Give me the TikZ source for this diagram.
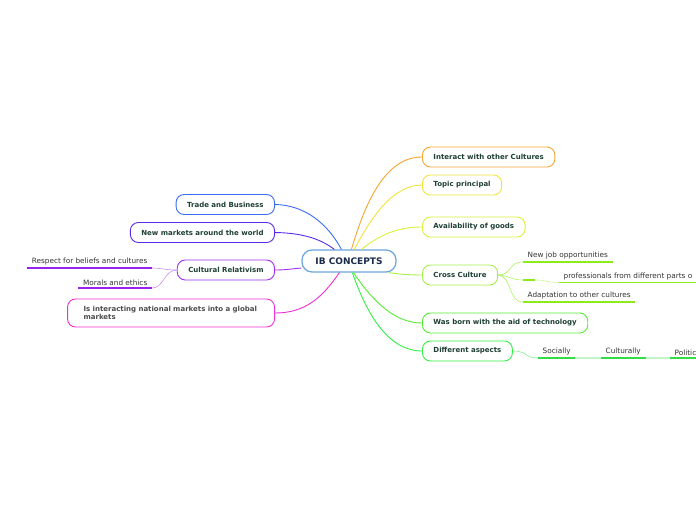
\documentclass[tikz,border=0pt]{standalone}
\usepackage{fontspec}
\setmainfont{DejaVu Sans}
\usetikzlibrary{calc}
\definecolor{corange}{HTML}{F7A531}
\definecolor{cyellow}{HTML}{F2E43A}
\definecolor{cavail}{HTML}{D6F23C}
\definecolor{ccross}{HTML}{A6EE4A}
\definecolor{csublime}{HTML}{8EEA1E}
\definecolor{cborn}{HTML}{55EE33}
\definecolor{cdiff}{HTML}{33EE44}
\definecolor{csubgreen}{HTML}{33DD44}
\definecolor{ctrade}{HTML}{3A6CF5}
\definecolor{cmarkets}{HTML}{5A2AE8}
\definecolor{crel}{HTML}{A030EE}
\definecolor{csubpurple}{HTML}{9922EE}
\definecolor{cinter}{HTML}{EE30D0}
\definecolor{ccenter}{HTML}{6AA6DC}
\definecolor{nodetext}{HTML}{1E3F33}
\definecolor{centertext}{HTML}{1B2B4B}
\definecolor{subtext}{HTML}{333333}
\begin{document}
\begin{tikzpicture}[x=1pt,y=-1pt,
  centerbox/.style={draw=ccenter, line width=1.2pt, rounded corners=10pt, fill=white,
    minimum width=94pt, minimum height=22pt, inner sep=0pt, text=centertext,
    font=\fontsize{9}{10}\selectfont\bfseries},
  topic/.style={draw, line width=0.9pt, rounded corners=8pt, fill=white,
    minimum height=20pt, inner xsep=11pt, inner ysep=0pt, text=nodetext,
    font=\fontsize{7}{8.4}\selectfont\bfseries},
  topicR/.style={topic, anchor=west},
  topicL/.style={topic, anchor=east},
  subtopic/.style={inner xsep=4.5pt, inner ysep=2.5pt, text=subtext,
    font=\fontsize{7.3}{8.6}\selectfont},
  conn/.style={line width=0.9pt},
  thinconn/.style={line width=0.6pt},
  uline/.style={line width=1.8pt},
]
\useasboundingbox (0,0) rectangle (696,520);
\clip (0,0) rectangle (696,520);

% ---------- central topic ----------
\node[centerbox] (c) at (349,261) {IB CONCEPTS};

% ---------- right main topics ----------
\node[topicR, draw=corange]  (r1) at (422,157) {Interact with other Cultures};
\node[topicR, draw=cyellow]  (r2) at (422,185) {Topic principal};
\node[topicR, draw=cavail]   (r3) at (422,227) {Availability of goods};
\node[topicR, draw=ccross]   (r4) at (422,275) {Cross Culture};
\node[topicR, draw=cborn]    (r5) at (422,323) {Was born with the aid of technology};
\node[topicR, draw=cdiff]    (r6) at (422,351) {Different aspects};

% ---------- left main topics ----------
\node[topicL, draw=ctrade]   (l1) at (275,204.5) {Trade and Business};
\node[topicL, draw=cmarkets] (l2) at (275,232.5) {New markets around the world};
\node[topicL, draw=crel]     (l3) at (275,270) {Cultural Relativism};
\node[topicL, draw=cinter, minimum height=28pt, inner xsep=16pt, text width=175pt, align=left,
      text=gray!60!black, font=\fontsize{7}{8.4}\selectfont\bfseries]
      (l4) at (275,313) {Is interacting national markets into a global\\markets};

% ---------- attachment points on the central topic ----------
\coordinate (ct1) at ($(c.north west)+(50,0)$);
\coordinate (ct2) at ($(c.north west)+(53,0)$);
\coordinate (ct3) at ($(c.north west)+(60,0)$);
\coordinate (ct4) at ($(c.south east)+(-8,0)$);
\coordinate (ct5) at ($(c.south west)+(52,0)$);
\coordinate (ct6) at ($(c.south west)+(51,0)$);
\coordinate (ctl1) at ($(c.north west)+(40,0)$);
\coordinate (ctl2) at ($(c.north west)+(33,0)$);
\coordinate (ctl3) at ($(c.west)+(0,7)$);
\coordinate (ctl4) at ($(c.south west)+(38,0)$);

% ---------- main connectors ----------
\draw[conn, corange]  (ct1) .. controls (366,200) and (386,157) .. (r1.west);
\draw[conn, cyellow]  (ct2) .. controls (372,215) and (394,185) .. (r2.west);
\draw[conn, cavail]   (ct3) .. controls (382,233) and (400,227) .. (r3.west);
\draw[conn, ccross]   (ct4) .. controls (398,274) and (408,275) .. (r4.west);
\draw[conn, cborn]    (ct5) .. controls (372,300) and (394,323) .. (r5.west);
\draw[conn, cdiff]    (ct6) .. controls (368,318) and (390,351) .. (r6.west);

\draw[conn, ctrade]   (ctl1) .. controls (328,224) and (305,205) .. (l1.east);
\draw[conn, cmarkets] (ctl2) .. controls (322,240) and (305,233) .. (l2.east);
\draw[conn, crel]     (ctl3) .. controls (290,269) and (285,270) .. (l3.east);
\draw[conn, cinter]   (ctl4) .. controls (322,298) and (305,313) .. (l4.east);

% ---------- Cross Culture subtopics ----------
\node[subtopic, anchor=south west] (s1) at (523,262) {New job opportunities};
\draw[uline, csublime] (s1.south west) -- (s1.south east);
\coordinate (e1) at (523,280);
\coordinate (e2) at (535,280);
\draw[uline, csublime] (e1) -- (e2);
\node[subtopic, anchor=south west] (s2) at (559,282.5) {professionals from different parts o};
\coordinate (s2end) at (696,282.5);
\draw[uline, csublime] (s2.south west) -- (s2end);
\node[subtopic, anchor=south west] (s3) at (523,302) {Adaptation to other cultures};
\draw[uline, csublime] (s3.south west) -- (s3.south east);

\draw[thinconn, csublime!70] (r4.east) .. controls (512,275) and (508,262) .. (s1.south west);
\draw[thinconn, csublime!70] (r4.east) .. controls (510,276) and (512,280) .. (e1);
\draw[thinconn, csublime!45] (e2) .. controls (548,280) and (546,282.5) .. (s2.south west);
\draw[thinconn, csublime!70] (r4.east) .. controls (512,276) and (508,302) .. (s3.south west);

% ---------- Different aspects subtopics ----------
\node[subtopic, anchor=south west] (d1) at (538,358) {Socially};
\draw[uline, csubgreen] (d1.south west) -- (d1.south east);
\node[subtopic, anchor=south west] (d2) at (601,358) {Culturally};
\draw[uline, csubgreen] (d2.south west) -- (d2.south east);
\node[subtopic, anchor=south west] (d3) at (670,358) {Politic};
\coordinate (d3end) at (696,358);
\draw[uline, csubgreen] (d3.south west) -- (d3end);

\draw[thinconn, csubgreen!60] (r6.east) .. controls (528,351) and (524,358) .. (d1.south west);
\draw[uline, csubgreen!30] (d1.south east) -- (d2.south west);
\draw[uline, csubgreen!30] (d2.south east) -- (d3.south west);

% ---------- Cultural Relativism subtopics ----------
\node[subtopic, anchor=south east] (p1) at (152,268) {Respect for beliefs and cultures};
\draw[uline, csubpurple] (p1.south west) -- (p1.south east);
\node[subtopic, anchor=south east] (p2) at (152,288) {Morals and ethics};
\draw[uline, csubpurple] (p2.south west) -- (p2.south east);

\draw[thinconn, csubpurple!50] (l3.west) .. controls (164,270) and (162,268) .. (p1.south east);
\draw[thinconn, csubpurple!50] (l3.west) .. controls (164,270) and (164,288) .. (p2.south east);
\end{tikzpicture}
\end{document}
